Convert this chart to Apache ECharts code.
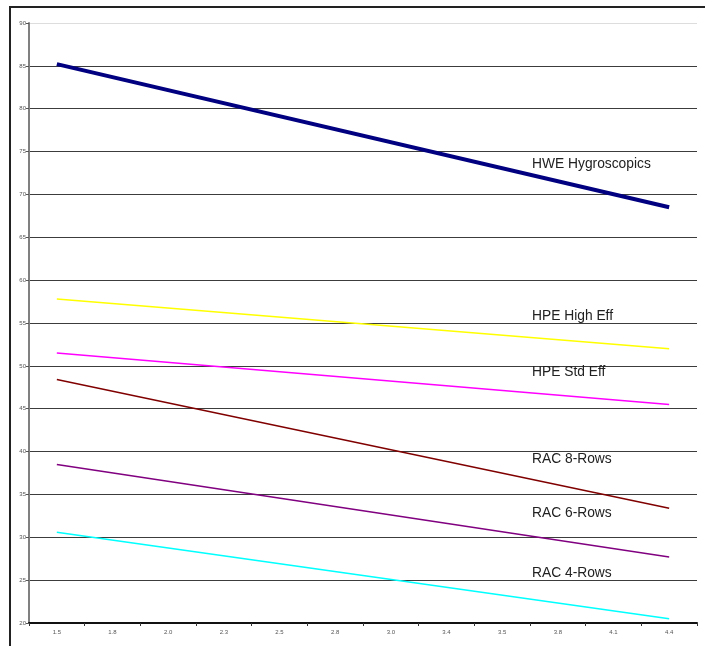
<!DOCTYPE html>
<html>
<head>
<meta charset="utf-8">
<script src="https://cdn.jsdelivr.net/npm/echarts@6/dist/echarts.min.js"></script>
<style>html,body{margin:0;padding:0;background:#fff;}#c{width:705px;height:646px;}</style>
</head>
<body>
<div id="c"></div>
<script>
var categories = ['1.5','1.8','2.0','2.3','2.5','2.8','3.0','3.4','3.5','3.8','4.1','4.4'];
// Only the end points can be read from the picture (straight lines, no markers)
var hweHygroscopics = [85.2, null, null, null, null, null, null, null, null, null, null, 68.5];
var hpeHighEff      = [57.8, null, null, null, null, null, null, null, null, null, null, 52.0];
var hpeStdEff       = [51.5, null, null, null, null, null, null, null, null, null, null, 45.5];
var rac8Rows        = [48.4, null, null, null, null, null, null, null, null, null, null, 33.4];
var rac6Rows        = [38.5, null, null, null, null, null, null, null, null, null, null, 27.7];
var rac4Rows        = [30.6, null, null, null, null, null, null, null, null, null, null, 20.5];
var seriesNames = ['HWE Hygroscopics','HPE High Eff','HPE Std Eff','RAC 8-Rows','RAC 6-Rows','RAC 4-Rows'];
var labelValues = [73.4, 55.6, 49.1, 38.9, 32.6, 25.6];

var chart = echarts.init(document.getElementById('c'), null, {renderer:'canvas'});
var colors = ['#000080','#FFFF00','#FF00FF','#800000','#800080','#00FFFF'];
var widths = [4,1.5,1.5,1.5,1.5,1.5];
var datas = [hweHygroscopics,hpeHighEff,hpeStdEff,rac8Rows,rac6Rows,rac4Rows];
var series = datas.map(function(d,i){
  return {name:seriesNames[i], type:'line', data:d, connectNulls:true, symbol:'none',
    lineStyle:{color:colors[i], width:widths[i]}, animation:false, z:3};
});
var splitColors = [];
for (var k=0;k<15;k++) splitColors.push(k===14?'#dddddd':'#3c3c3c');
chart.setOption({
  animation:false,
  grid:{left:29, right:8, top:23, bottom:23},
  xAxis:{type:'category', data:categories, boundaryGap:true,
    axisLine:{lineStyle:{color:'#111', width:2}},
    axisTick:{show:true, length:3, lineStyle:{color:'#333'}},
    axisLabel:{fontSize:6, color:'#555', margin:6, fontFamily:'Liberation Sans'},
    splitLine:{show:false}},
  yAxis:{type:'value', min:20, max:90, interval:5,
    axisLine:{show:true, lineStyle:{color:'#808080', width:2}},
    axisTick:{show:true, length:3, lineStyle:{color:'#555'}},
    axisLabel:{fontSize:6, color:'#555', margin:3, fontFamily:'Liberation Sans'},
    splitLine:{show:true, lineStyle:{color:splitColors, width:1.2}}},
  series:series
});
var g = [];
g.push({type:'rect', shape:{x:10, y:7, width:720, height:680},
    style:{fill:'none', stroke:'#222', lineWidth:2}, z:0, silent:true});
seriesNames.forEach(function(n,i){
  var py = chart.convertToPixel({yAxisIndex:0}, labelValues[i]);
  g.push({type:'text', left:532, top:py-8.5, z:10,
    style:{text:n, font:'13.8px "Liberation Sans", Arial, sans-serif', fill:'#222'}});
});
chart.setOption({graphic:g});
</script>
</body>
</html>
